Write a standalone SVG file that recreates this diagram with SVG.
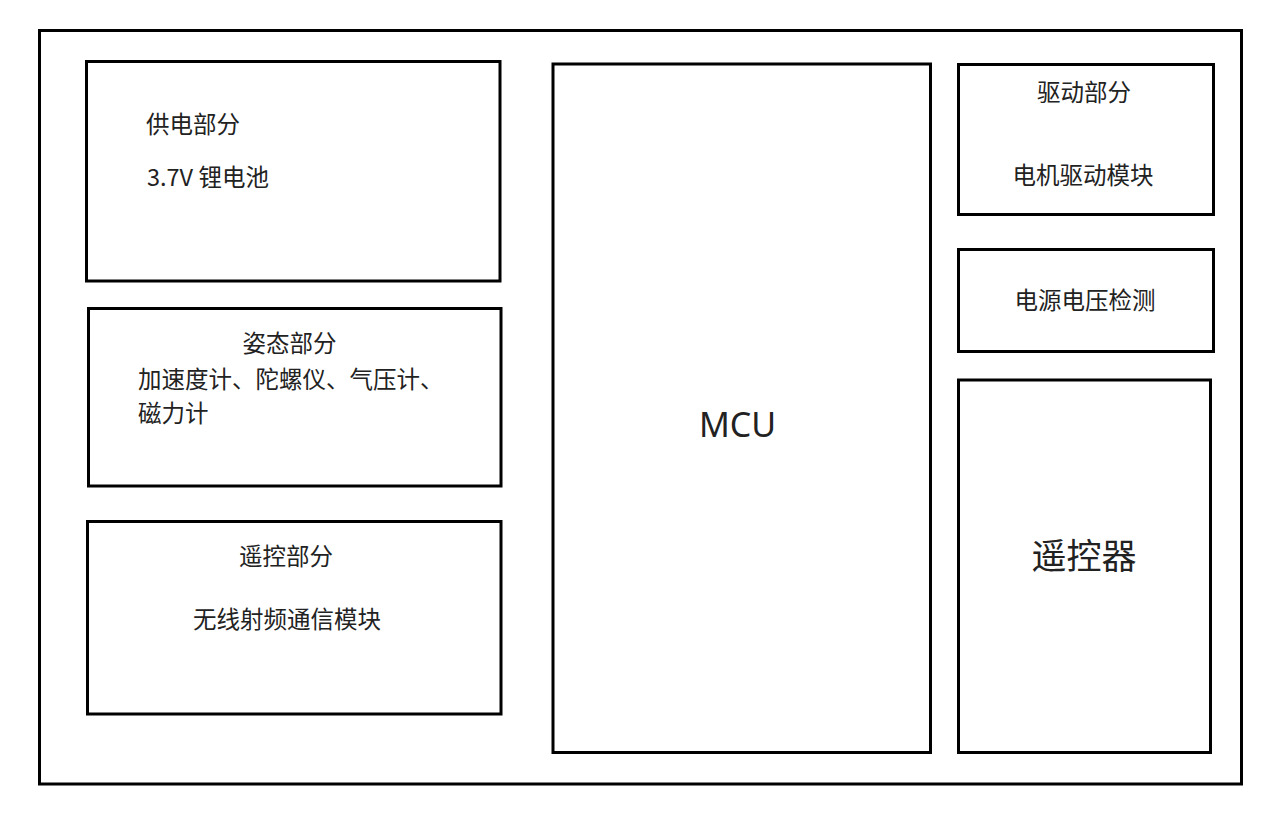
<svg xmlns="http://www.w3.org/2000/svg" width="1278" height="813" viewBox="0 0 1278 813">
<style>
.box{fill:#fff;stroke:#000;stroke-width:3}
.t{font-family:"Noto Sans CJK SC","Microsoft YaHei",sans-serif;font-size:23.5px;fill:#222;dominant-baseline:central}
.c{text-anchor:middle}
</style>
<rect width="1278" height="813" fill="#fff"/>
<g id="frame"><rect class="box" x="39.5" y="30.5" width="1202" height="753.5"/></g>
<g id="power">
<rect class="box" x="86.5" y="61.5" width="413.5" height="219.5"/>
<text class="t" x="146" y="123">供电部分</text>
<text class="t" x="147" y="176">3.7V 锂电池</text>
</g>
<g id="attitude">
<rect class="box" x="88.5" y="308.5" width="412.5" height="177.5"/>
<text class="t c" x="289.5" y="342">姿态部分</text>
<text class="t" x="138" y="378">加速度计、陀螺仪、气压计、</text>
<text class="t" x="138" y="412">磁力计</text>
</g>
<g id="remote-part">
<rect class="box" x="87.5" y="521.5" width="413.5" height="192.5"/>
<text class="t c" x="286" y="555">遥控部分</text>
<text class="t c" x="287" y="618">无线射频通信模块</text>
</g>
<g id="mcu">
<rect class="box" x="553" y="64" width="377.5" height="688.5"/>
<text x="737.5" y="436.7" text-anchor="middle" style="font-family:'Noto Sans',sans-serif;font-size:34px;fill:#222">MCU</text>
</g>
<g id="drive">
<rect class="box" x="958.5" y="64.5" width="255" height="150"/>
<text class="t c" x="1084" y="91">驱动部分</text>
<text class="t c" x="1083" y="174">电机驱动模块</text>
</g>
<g id="voltage">
<rect class="box" x="958.5" y="249.5" width="255" height="102"/>
<text class="t c" x="1085" y="299">电源电压检测</text>
</g>
<g id="controller">
<rect class="box" x="958.5" y="380" width="252" height="372.5"/>
<text class="t c" x="1084" y="553" style="font-size:35px">遥控器</text>
</g>
<g id="connectors"></g>
</svg>
